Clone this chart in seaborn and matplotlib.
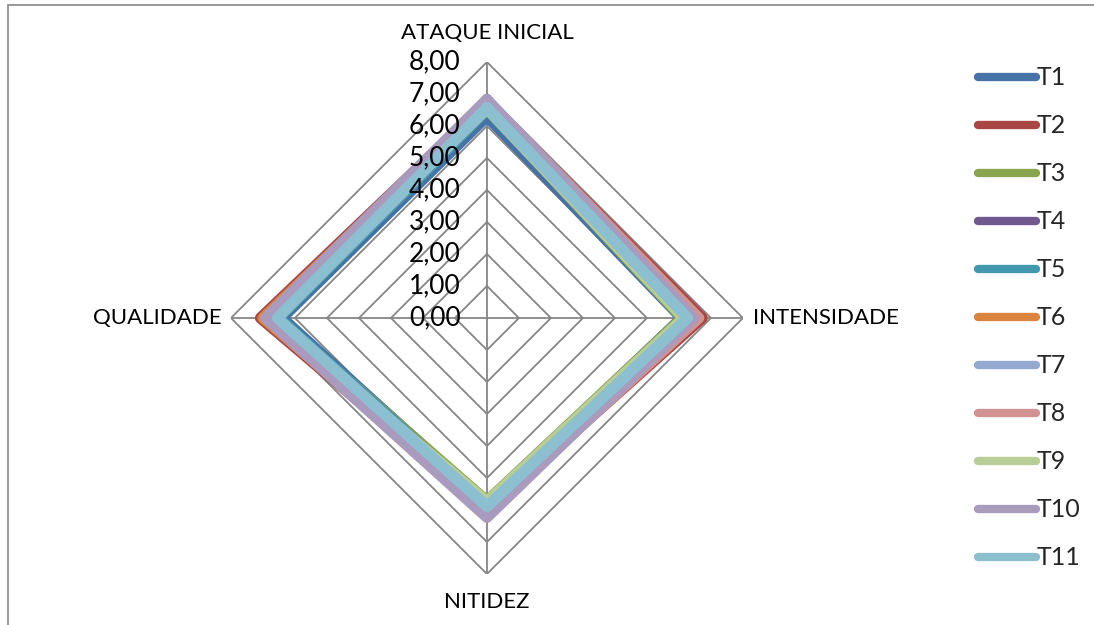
import numpy as np
import pandas as pd
import matplotlib
matplotlib.use("Agg")
import matplotlib.pyplot as plt
from matplotlib.lines import Line2D
from matplotlib.patches import Rectangle
import seaborn as sns

# Sensory attributes (clockwise from the top)
attributes = ["ATAQUE INICIAL", "INTENSIDADE", "NITIDEZ", "QUALIDADE"]
treatments = ["T1", "T2", "T3", "T4", "T5", "T6", "T7", "T8", "T9", "T10", "T11"]

# Mean scores per treatment: ataque inicial, intensidade, nitidez, qualidade
T1 = [6.30, 6.08, 5.80, 6.40]
T2 = [6.75, 6.73, 6.00, 7.08]
T3 = [6.55, 6.10, 5.72, 6.55]
T4 = [6.50, 6.20, 5.85, 6.50]
T5 = [6.50, 6.25, 5.85, 6.50]
T6 = [6.70, 6.50, 5.95, 7.00]
T7 = [6.55, 6.40, 6.00, 6.65]
T8 = [6.80, 6.62, 6.10, 6.85]
T9 = [6.55, 6.15, 5.74, 6.78]
T10 = [6.83, 6.45, 6.23, 6.92]
T11 = [6.57, 6.27, 5.89, 6.55]
series = [T1, T2, T3, T4, T5, T6, T7, T8, T9, T10, T11]

radial_ticks = [0, 1, 2, 3, 4, 5, 6, 7, 8]
radial_labels = ["0,00", "1,00", "2,00", "3,00", "4,00", "5,00", "6,00", "7,00", "8,00"]

colors = ["#4572A7", "#AA4643", "#89A54E", "#71588F", "#4198AF", "#DB843D",
          "#93A9CF", "#D19392", "#B9CD96", "#A99BBD", "#8CBFD0"]

sns.set_theme(style="white")
plt.rcParams["font.family"] = ["Lato", "DejaVu Sans"]

n = len(attributes)
angles = np.linspace(0, 2 * np.pi, n, endpoint=False)

# Long-format table, each polygon closed by repeating the first vertex
rows = []
for name, vals in zip(treatments, series):
    for k in range(n + 1):
        rows.append({"tratamento": name, "theta": angles[k] if k < n else 2 * np.pi,
                     "valor": vals[k % n], "ordem": k})
df = pd.DataFrame(rows)

fig = plt.figure(figsize=(10.94, 6.25), dpi=100)
ax = fig.add_axes([0.2111, 0.0816, 0.468, 0.8192], projection="polar")
ax.set_theta_zero_location("N")
ax.set_theta_direction(-1)
ax.set_ylim(0, 8)
ax.grid(False)
ax.spines["polar"].set_visible(False)
ax.set_xticks([])
ax.set_yticks([])
ax.set_facecolor("none")

grid_color = "#868686"
# Polygonal grid rings
closed = np.append(angles, 2 * np.pi)
for r in radial_ticks[1:]:
    ax.plot(closed, [r] * (n + 1), color=grid_color, lw=1.3, zorder=1)
# Spokes
for a in angles:
    ax.plot([a, a], [0, 8.2], color=grid_color, lw=1.3, zorder=1)

sns.lineplot(data=df, x="theta", y="valor", hue="tratamento", hue_order=treatments,
             palette=colors, sort=False, estimator=None, units="tratamento",
             lw=8, legend=False, ax=ax, zorder=3)
for line in ax.get_lines()[-len(treatments):]:
    line.set_solid_joinstyle("round")
    line.set_solid_capstyle("round")
ax.set_xlabel("")
ax.set_ylabel("")

# Radial value labels along the top spoke
for r, lab in zip(radial_ticks, radial_labels):
    ax.annotate(lab, xy=(0, r), xytext=(-19, 0), textcoords="offset points",
                ha="right", va="center", fontsize=19, color="black", zorder=4)

# Attribute labels
lab_kw = dict(textcoords="offset points", va="center", fontsize=16, color="black")
ax.annotate(attributes[0], xy=(angles[0], 8), xytext=(0, 21), ha="center", **lab_kw)
ax.annotate(attributes[1], xy=(angles[1], 8), xytext=(7, 0), ha="left", **lab_kw)
ax.annotate(attributes[2], xy=(angles[2], 8), xytext=(0, -20), ha="center", **lab_kw)
ax.annotate(attributes[3], xy=(angles[3], 8), xytext=(-7, 0), ha="right", **lab_kw)

handles = [Line2D([0], [0], color=c, lw=6, solid_capstyle="round") for c in colors]
fig.legend(handles, treatments, loc="upper left", bbox_to_anchor=(0.885, 0.910),
           frameon=False, fontsize=18, handlelength=2.3, handletextpad=0.05,
           labelspacing=1.0, borderaxespad=0)

# Chart area border
fig.add_artist(Rectangle((8 / 1094, -0.01), 1.0, 1 - 5 / 625 + 0.01,
                         transform=fig.transFigure, fill=False, edgecolor="#868686", lw=1.2))

fig.savefig("out.png", dpi=100)
